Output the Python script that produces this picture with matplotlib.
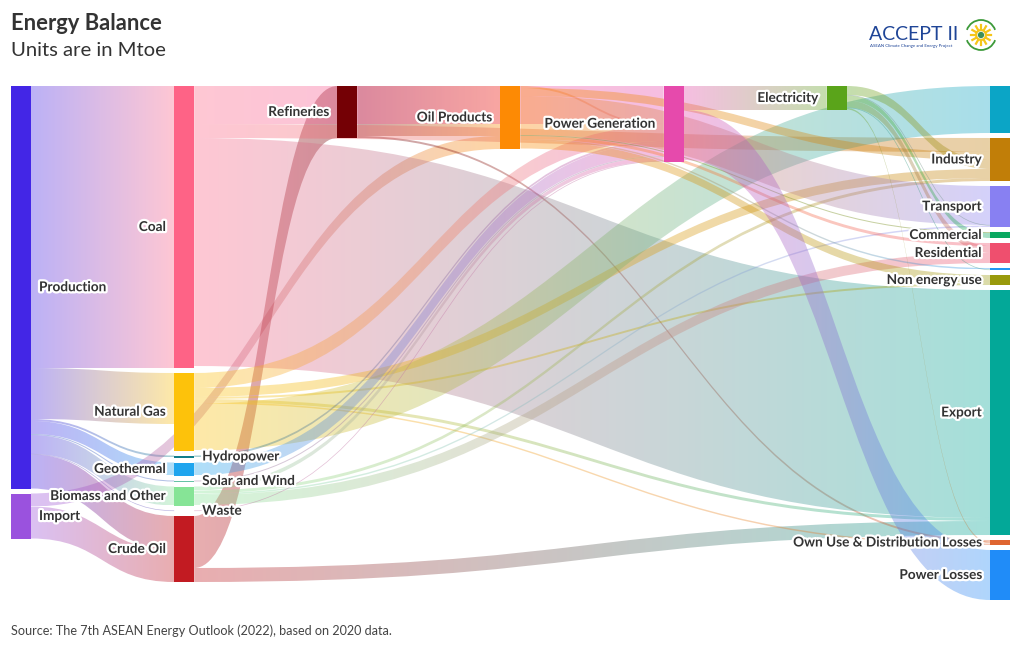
import matplotlib
matplotlib.use("Agg")
import matplotlib.pyplot as plt
import numpy as np
from matplotlib.path import Path
from matplotlib.patches import PathPatch, Rectangle, Circle, Arc
import matplotlib.patheffects as pe
from matplotlib.colors import to_rgb

# ---------------- DATA ----------------
node_ids = ["Production", "Import",
            "Coal", "Natural Gas", "Hydropower", "Geothermal", "Solar and Wind",
            "Biomass and Other", "Waste", "Crude Oil",
            "Refineries", "Oil Products", "Power Generation", "Electricity",
            "node_top", "Industry", "Transport", "Commercial", "Residential",
            "node_small", "Non energy use", "Export",
            "Own Use & Distribution Losses", "Power Losses"]
node_labels = ["Production", "Import",
               "Coal", "Natural Gas", "Hydropower", "Geothermal", "Solar and Wind",
               "Biomass and Other", "Waste", "Crude Oil",
               "Refineries", "Oil Products", "Power Generation", "Electricity",
               "", "Industry", "Transport", "Commercial", "Residential",
               "", "Non energy use", "Export",
               "Own Use & Distribution Losses", "Power Losses"]
node_columns = [0, 0, 1, 1, 1, 1, 1, 1, 1, 1, 2, 3, 4, 5,
                6, 6, 6, 6, 6, 6, 6, 6, 6, 6]
node_colors = ["#4326e6", "#9a52de",
               "#fe6386", "#fdc20b", "#127f8c", "#1fa5ee", "#66c2a5",
               "#86e496", "#9e9e9e", "#c21b22",
               "#740005", "#fd8a04", "#e64aac", "#5aa41a",
               "#0ba5c6", "#c17e08", "#8880f2", "#0aa860", "#ef4f6e",
               "#2196f3", "#999a0c", "#03a898", "#df6530", "#208cf8"]
label_side = ["right", "right",
              "left", "left", "right", "left", "right", "left", "right", "left",
              "left", "left", "left", "left",
              "left", "left", "left", "left", "left", "left", "left", "left",
              "left", "left"]

# links (values in Mtoe)
link_source = ["Production", "Production", "Production", "Production", "Production",
               "Production", "Production", "Production",
               "Import", "Import",
               "Crude Oil", "Crude Oil",
               "Refineries", "Refineries",
               "Coal", "Coal", "Coal",
               "Natural Gas", "Natural Gas", "Natural Gas", "Natural Gas", "Natural Gas", "Natural Gas",
               "Hydropower", "Geothermal", "Solar and Wind",
               "Biomass and Other", "Biomass and Other", "Biomass and Other", "Biomass and Other",
               "Waste",
               "Oil Products", "Oil Products", "Oil Products", "Oil Products", "Oil Products",
               "Oil Products", "Oil Products",
               "Power Generation", "Power Generation",
               "Electricity", "Electricity", "Electricity", "Electricity", "Electricity", "Electricity"]
link_target = ["Coal", "Natural Gas", "Hydropower", "Geothermal", "Solar and Wind",
               "Biomass and Other", "Waste", "Crude Oil",
               "Oil Products", "Crude Oil",
               "Refineries", "Export",
               "Oil Products", "Own Use & Distribution Losses",
               "Power Generation", "Industry", "Export",
               "Power Generation", "Industry", "Non energy use", "Export",
               "Own Use & Distribution Losses", "node_top",
               "Power Generation", "Power Generation", "Power Generation",
               "Power Generation", "Industry", "Transport", "Residential",
               "Power Generation",
               "Power Generation", "Industry", "Transport", "Commercial", "Residential",
               "node_small", "Non energy use",
               "Electricity", "Power Losses",
               "Industry", "Transport", "Commercial", "Residential", "node_small",
               "Own Use & Distribution Losses"]
link_value = [564, 102, 4, 26, 2, 38, 1, 68,
              26, 64,
              104, 28,
              100, 4,
              76, 28, 456,
              30, 18, 4, 6, 3, 94,
              4, 26, 2,
              8, 6, 3, 20,
              1,
              4, 16, 78, 2, 6, 3, 16,
              48, 100,
              18, 1, 10, 14, 1, 3]
# outgoing links that are stacked at the bottom of their source node
send_last = [("Natural Gas", "node_top")]

title = "Energy Balance"
subtitle = "Units are in Mtoe"
source_note = "Source: The 7th ASEAN Energy Outlook (2022), based on 2020 data."

# ---------------- STYLE ----------------
FONT = ["Lato", "DejaVu Sans"]
plt.rcParams["font.family"] = FONT
PLOT_LEFT, PLOT_RIGHT, PLOT_TOP = 11, 1010, 86
NODE_W = 20
PAD = 5
SCALE = 0.5        # px per Mtoe
ALPHA = 0.36

fig = plt.figure(figsize=(10.2, 6.5), dpi=100)
ax = fig.add_axes([0, 0, 1, 1])
ax.axis("off")

N = len(node_ids)
idx = {n: i for i, n in enumerate(node_ids)}
src = [idx[s] for s in link_source]
tgt = [idx[t] for t in link_target]
inflow = np.zeros(N)
outflow = np.zeros(N)
for s, t, v in zip(src, tgt, link_value):
    outflow[s] += v
    inflow[t] += v
node_val = np.maximum(inflow, outflow)
ncols = max(node_columns) + 1
col_step = (PLOT_RIGHT - NODE_W - PLOT_LEFT) / (ncols - 1)
node_x = [PLOT_LEFT + c * col_step for c in node_columns]
node_y0 = np.zeros(N)
node_h = node_val * SCALE
col_cursor = {c: PLOT_TOP for c in range(ncols)}
for i in range(N):
    c = node_columns[i]
    node_y0[i] = col_cursor[c]
    col_cursor[c] += node_h[i] + PAD

# link stacking
out_links = {i: [] for i in range(N)}
in_links = {i: [] for i in range(N)}
for k in range(len(src)):
    out_links[src[k]].append(k)
    in_links[tgt[k]].append(k)
last_set = {(idx[a], idx[b]) for a, b in send_last}
ys = np.zeros((len(src), 2))
yt = np.zeros((len(src), 2))
for i in range(N):
    lst = sorted(out_links[i], key=lambda k: ((src[k], tgt[k]) in last_set,
                                              node_y0[tgt[k]], node_columns[tgt[k]]))
    cur = node_y0[i]
    for k in lst:
        w = link_value[k] * SCALE
        ys[k] = (cur, cur + w)
        cur += w
    lst = sorted(in_links[i], key=lambda k: (node_y0[src[k]], node_columns[src[k]]))
    cur = node_y0[i]
    for k in lst:
        w = link_value[k] * SCALE
        yt[k] = (cur, cur + w)
        cur += w

grad_t = np.linspace(0, 1, 200)[None, :, None]
for k in range(len(src)):
    s, t = src[k], tgt[k]
    x0 = node_x[s] + NODE_W
    x1 = node_x[t]
    xm = (x0 + x1) / 2
    c0 = np.array(to_rgb(node_colors[s]))
    c1 = np.array(to_rgb(node_colors[t]))
    w = link_value[k] * SCALE
    if w < 1.2:
        verts = [(x0, ys[k].mean()), (xm, ys[k].mean()), (xm, yt[k].mean()), (x1, yt[k].mean())]
        p = Path(verts, [Path.MOVETO, Path.CURVE4, Path.CURVE4, Path.CURVE4])
        ax.add_patch(PathPatch(p, fill=False, edgecolor=tuple((c0 + c1) / 2) + (0.45,),
                               lw=max(w * 0.72, 0.5), zorder=1))
        continue
    verts = [(x0, ys[k][0]), (xm, ys[k][0]), (xm, yt[k][0]), (x1, yt[k][0]),
             (x1, yt[k][1]), (xm, yt[k][1]), (xm, ys[k][1]), (x0, ys[k][1]), (x0, ys[k][0])]
    codes = [Path.MOVETO, Path.CURVE4, Path.CURVE4, Path.CURVE4,
             Path.LINETO, Path.CURVE4, Path.CURVE4, Path.CURVE4, Path.CLOSEPOLY]
    patch = PathPatch(Path(verts, codes), facecolor="none", edgecolor="none",
                      transform=ax.transData)
    img = np.concatenate([c0 + (c1 - c0) * grad_t, np.full((1, 200, 1), ALPHA)], axis=2)
    ymin = min(ys[k][0], yt[k][0])
    ymax = max(ys[k][1], yt[k][1])
    im = ax.imshow(img, extent=(x0, x1, ymax, ymin), aspect="auto",
                   interpolation="bilinear", zorder=1)
    im.set_clip_path(patch)

halo = [pe.withStroke(linewidth=3.2, foreground="white")]
for i in range(N):
    if node_h[i] <= 0:
        continue
    ax.add_patch(Rectangle((node_x[i], node_y0[i]), NODE_W, node_h[i],
                           facecolor=node_colors[i], edgecolor="none", zorder=3))
    if node_labels[i]:
        yc = node_y0[i] + node_h[i] / 2
        if label_side[i] == "left":
            ax.text(node_x[i] - 8, yc, node_labels[i], ha="right", va="center",
                    fontsize=9.8, fontweight="bold", color="#333333",
                    path_effects=halo, zorder=5)
        else:
            ax.text(node_x[i] + NODE_W + 8, yc, node_labels[i], ha="left", va="center",
                    fontsize=9.8, fontweight="bold", color="#333333",
                    path_effects=halo, zorder=5)

# titles
ax.text(11, 24, title, fontsize=15.8, fontweight="bold", color="#333333", va="center", ha="left")
ax.text(11, 50, subtitle, fontsize=14.6, color="#333333", va="center", ha="left")
ax.text(11, 631, source_note, fontsize=9.1, color="#444444", va="center", ha="left")

# logo
ax.text(869, 34, "ACCEPT II", fontsize=14, color="#1f4597", va="center", ha="left")
ax.text(870, 46, "ASEAN Climate Change and Energy Project", fontsize=3.2, color="#1f4597",
        va="center", ha="left")
ax.add_patch(Arc((981, 35), 30, 30, theta1=20, theta2=160, color="#3d9a3a", lw=1.3, zorder=3))
ax.add_patch(Arc((981, 35), 30, 30, theta1=200, theta2=340, color="#3d9a3a", lw=1.3, zorder=3))
for a in np.linspace(0, 2 * np.pi, 12, endpoint=False):
    ax.plot([981 + 6 * np.cos(a), 981 + 10 * np.cos(a)],
            [35 + 6 * np.sin(a), 35 + 10 * np.sin(a)], color="#f5c518", lw=1.6, zorder=3)
ax.add_patch(Circle((981, 35), 6, facecolor="#f5c518", edgecolor="none", zorder=3))
ax.add_patch(Circle((981, 35), 3.5, facecolor="#3d8f5a", edgecolor="white", lw=0.5, zorder=4))

ax.set_xlim(0, 1020)
ax.set_ylim(650, 0)
fig.savefig("out.png", dpi=100)
